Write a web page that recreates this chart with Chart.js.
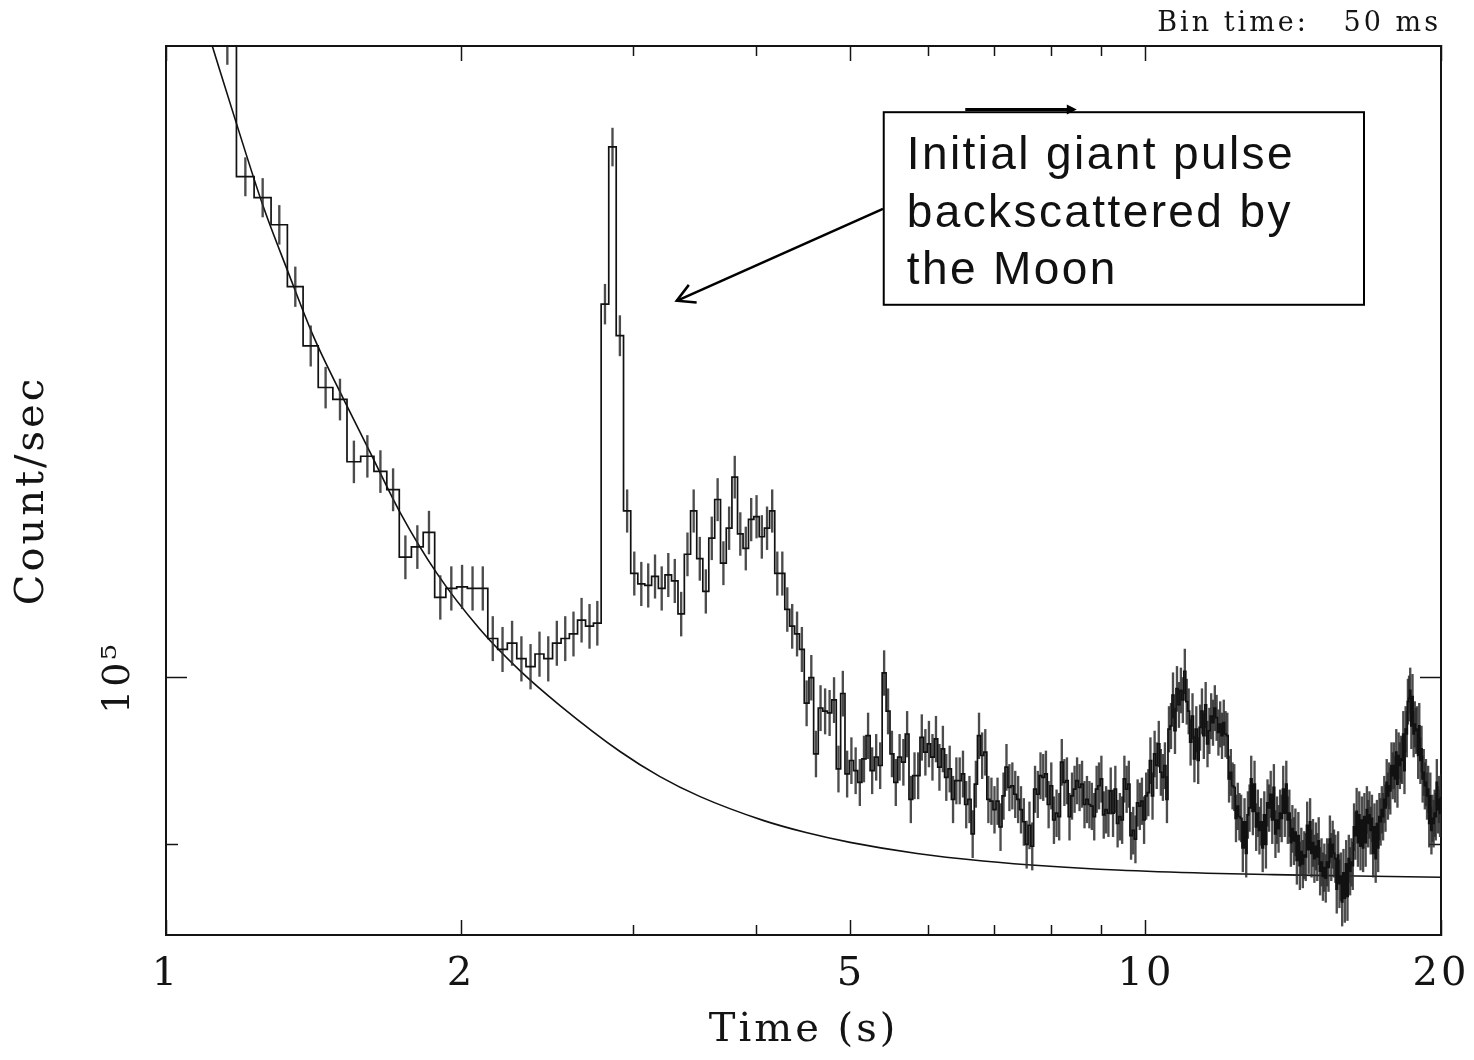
<!DOCTYPE html>
<html>
<head>
<meta charset="utf-8">
<script src="https://cdn.jsdelivr.net/npm/chart.js@4.4.1/dist/chart.umd.min.js"></script>
<style>
  html, body { margin: 0; padding: 0; background: #ffffff; }
  #wrap { width: 1474px; height: 1060px; }
</style>
</head>
<body>
<div id="wrap"><canvas id="c" width="1474" height="1060" style="width:1474px;height:1060px"></canvas></div>
<script>
// ---------------- data (count rate in units of 10^3 counts/s, 50 ms bins) ----------------
const BIN_START = 1.03;   // left edge of first bin (s)
const BIN_TIME = 0.05;    // bin width (s)
const RATE_UNIT = 1000;

// bins 1.03 - 3.03 s
const rateEarly = [158.0, 153.0, 149.0, 137.2, 135.4, 133.1, 128.0, 123.3, 120.1, 119.2,
  114.6, 115.0, 113.9, 112.6, 107.9, 108.6, 109.6, 105.2, 105.8, 105.9,
  105.8, 105.8, 102.5, 101.8, 102.2, 101.2, 100.7, 101.5, 101.2, 102.2,
  102.5, 102.8, 103.7, 103.3, 103.5, 126.6, 139.8, 124.1, 111.1, 106.8];
// bins 3.03 - 5.03 s
const rateMid = [106.1, 106.0, 106.6, 105.8, 106.7, 106.3, 104.1, 108.1, 111.1, 107.8,
  105.6, 109.2, 111.9, 107.5, 109.9, 113.5, 109.5, 108.5, 110.5, 110.7,
  109.3, 109.9, 111.1, 106.8, 106.8, 104.4, 103.3, 102.8, 101.8, 98.4,
  100.0, 95.3, 98.1, 97.9, 97.8, 98.6, 94.4, 99.0, 94.1, 94.9];
// bins 5.03 - 10.03 s
const rateLate = [94.3, 93.6, 95.0, 96.4, 94.3, 95.1, 94.6, 100.3, 97.9, 95.3,
  93.6, 95.1, 94.8, 96.5, 92.6, 94.0, 94.0, 96.3, 95.4, 95.9,
  95.1, 96.2, 94.5, 95.6, 93.9, 94.4, 92.6, 93.7, 93.7, 94.1,
  92.3, 92.6, 90.6, 93.5, 96.4, 95.2, 95.4, 92.6, 92.5, 92.0,
  92.5, 91.0, 92.8, 94.5, 93.3, 93.4, 92.9, 92.6, 92.0, 91.3,
  90.0, 91.1, 89.9, 93.2, 92.9, 94.0, 93.9, 94.1, 92.3, 93.4,
  91.4, 91.8, 91.6, 94.8, 93.6, 93.7, 91.6, 92.8, 93.2, 93.7,
  93.3, 93.5, 92.3, 92.6, 92.3, 92.2, 91.6, 93.2, 93.4, 93.8,
  91.7, 92.0, 91.8, 93.1, 91.8, 93.2, 91.2, 91.6, 91.4, 93.8,
  93.2, 93.5, 90.5, 90.8, 90.3, 92.4, 92.2, 92.5, 91.4, 92.8];
// bins 10.03 - 20.03 s
const rateTail = [93.0, 94.9, 92.8, 95.3, 94.6, 95.9, 94.2, 93.9, 94.6, 92.6,
  96.8, 97.0, 98.9, 96.7, 99.3, 98.3, 99.2, 98.6, 100.4, 98.5,
  97.9, 96.0, 97.6, 95.0, 96.8, 94.9, 96.9, 97.9, 96.4, 98.3,
  95.9, 96.7, 97.6, 97.2, 98.1, 97.5, 96.6, 97.1, 96.4, 97.2,
  96.5, 96.4, 93.8, 94.2, 93.4, 93.3, 91.5, 92.2, 91.6, 91.5,
  89.8, 91.3, 89.5, 91.7, 92.1, 93.8, 91.9, 93.5, 91.0, 91.8,
  90.8, 91.3, 89.8, 91.7, 90.0, 92.4, 92.1, 92.9, 91.4, 93.3,
  90.6, 91.4, 90.9, 91.8, 91.5, 93.2, 91.8, 93.5, 91.4, 91.8,
  90.1, 90.9, 90.2, 90.7, 89.1, 90.5, 88.8, 89.6, 88.9, 89.4,
  89.3, 91.1, 89.7, 91.3, 89.5, 90.1, 89.2, 89.9, 89.3, 90.2,
  88.5, 89.0, 88.2, 88.7, 88.1, 89.0, 88.7, 90.3, 89.3, 90.0,
  89.5, 89.2, 87.5, 89.4, 87.8, 88.2, 86.8, 88.4, 87.0, 88.9,
  87.1, 89.2, 88.5, 89.0, 88.8, 91.0, 90.5, 91.9, 90.1, 91.7,
  89.9, 91.4, 89.8, 91.6, 90.1, 92.0, 91.2, 91.7, 90.8, 91.5,
  89.5, 91.0, 89.2, 91.2, 89.8, 91.6, 91.3, 92.0, 91.6, 92.6,
  92.1, 93.6, 92.8, 93.4, 93.1, 94.6, 94.0, 94.6, 93.8, 95.4,
  93.5, 95.2, 94.6, 95.0, 94.9, 96.5, 94.3, 96.8, 96.5, 98.5,
  98.7, 99.2, 97.0, 98.8, 96.5, 97.1, 96.7, 96.8, 95.2, 97.0,
  94.9, 95.6, 93.8, 94.2, 93.4, 93.6, 92.8, 93.2, 91.2, 92.8,
  90.8, 91.5, 91.2, 91.8, 91.6, 93.6, 92.0, 92.6, 91.8, 92.7];

// fitted decay model
const modelTime = [1.114, 1.176, 1.256, 1.329, 1.413, 1.523, 1.615, 1.733, 1.890, 2.091,
  2.297, 2.524, 2.906, 3.192, 3.508, 4.067, 4.499, 4.989, 5.839, 6.819,
  7.981, 9.342, 11.54, 13.48, 15.77, 20.0];
const modelRate = [149.1, 142.3, 134.7, 129.4, 124.1, 119.0, 115.3, 111.0, 106.8, 103.1,
  100.44, 98.25, 95.44, 93.94, 92.76, 91.38, 90.68, 90.12, 89.49, 89.07,
  88.77, 88.56, 88.38, 88.30, 88.24, 88.16];

// axes
const xMajorTicks = [1, 2, 5, 10, 20];
const xMinorTicks = [3, 4, 6, 7, 8, 9];
const yMajorTicks = [100000];
const yMinorTicks = [90000];
const yTickLabels = { 100000: '10\u2075' };
const xTitle = 'Time (s)';
const yTitle = 'Count/sec';
const binLabel = 'Bin time:   50 ms';
const noteLines = ['Initial giant pulse', 'backscattered by', 'the Moon'];

// annotation anchors in data space (time s, counts/s)
const noteBox = { t0: 5.40, t1: 16.69, rTop: 142900, rBottom: 126540 };
const pointer = { fromT: 5.39, fromR: 134430, toT: 3.32, toR: 126860 };
const topArrow = { fromT: 6.54, toT: 8.50, r: 143150 };

// ---------------- build datasets ----------------
const rateK = [...rateEarly, ...rateMid, ...rateLate, ...rateTail];
const binLeft = rateK.map((_, k) => BIN_START + k * BIN_TIME);
const histPoints = rateK.map((r, k) => ({ x: binLeft[k], y: r * RATE_UNIT }));
histPoints.push({ x: BIN_START + rateK.length * BIN_TIME, y: rateK[rateK.length - 1] * RATE_UNIT });
const errPoints = rateK.map((r, k) => {
  const v = r * RATE_UNIT;
  const e = Math.sqrt(v / BIN_TIME); // Poisson error of the rate
  return { x: binLeft[k] + BIN_TIME / 2, y: [v - e, v + e] };
});
const modelPoints = modelTime.map((t, i) => ({ x: t, y: modelRate[i] * RATE_UNIT }));

// ---------------- chart ----------------
const INK = '#141414';
const SERIF = 'DejaVu Serif';
const SPACING = '3px';
const fixedTicks = (values) => (scale) => { scale.ticks = values.map(v => ({ value: v })); };
const noPad = (s) => { s.paddingLeft = 0; s.paddingRight = 0; s.paddingTop = 0; s.paddingBottom = 0; };

function tickAxis(position, values, len, weight, border, range) {
  return Object.assign({
    type: 'logarithmic', position, weight, offset: false, beginAtZero: false,
    afterBuildTicks: fixedTicks(values),
    afterFit: (s) => { if (s.isHorizontal()) s.height = 0; else s.width = 0; noPad(s); },
    grid: { offset: false, drawOnChartArea: false, drawTicks: true, tickLength: -len, tickWidth: 1.5, tickColor: INK },
    border: border ? { display: true, color: INK, width: 2 } : { display: false },
    ticks: { display: false }
  }, range);
}
const xRange = { min: 1, max: 20 };
const yRange = { min: 85000, max: 149000 };

const spacingPlugin = {
  id: 'spacing',
  beforeLayout(chart) { chart.ctx.letterSpacing = SPACING; },
  beforeDraw(chart) { chart.ctx.letterSpacing = SPACING; }
};

const notePlugin = {
  id: 'note',
  afterDraw(chart) {
    const { ctx } = chart;
    const xs = chart.scales.x, ys = chart.scales.y;
    const px = t => xs.getPixelForValue(t);
    const py = r => ys.getPixelForValue(r);
    ctx.save();
    ctx.strokeStyle = '#000';
    ctx.fillStyle = '#000';
    // pointer arrow with open head
    const x0 = px(pointer.fromT), y0 = py(pointer.fromR), x1 = px(pointer.toT), y1 = py(pointer.toR);
    ctx.lineWidth = 2.5;
    ctx.beginPath(); ctx.moveTo(x0, y0); ctx.lineTo(x1, y1); ctx.stroke();
    const ang = Math.atan2(y1 - y0, x1 - x0), head = 20, spread = 0.5;
    ctx.beginPath();
    ctx.moveTo(x1 - head * Math.cos(ang - spread), y1 - head * Math.sin(ang - spread));
    ctx.lineTo(x1, y1);
    ctx.lineTo(x1 - head * Math.cos(ang + spread), y1 - head * Math.sin(ang + spread));
    ctx.stroke();
    // text box
    const bx0 = px(noteBox.t0), bx1 = px(noteBox.t1), by0 = py(noteBox.rTop), by1 = py(noteBox.rBottom);
    ctx.fillStyle = '#fff';
    ctx.fillRect(bx0, by0, bx1 - bx0, by1 - by0);
    ctx.lineWidth = 2;
    ctx.strokeRect(bx0, by0, bx1 - bx0, by1 - by0);
    ctx.fillStyle = '#111';
    ctx.letterSpacing = '2.4px';
    ctx.font = '46px "Liberation Sans", Arial, sans-serif';
    ctx.textAlign = 'left';
    ctx.textBaseline = 'alphabetic';
    noteLines.forEach((s, i) => ctx.fillText(s, bx0 + 23, by0 + 57 + i * 57.5));
    // small arrow on top edge of the box
    const ax0 = px(topArrow.fromT), ax1 = px(topArrow.toT), ay = py(topArrow.r);
    ctx.strokeStyle = '#000'; ctx.fillStyle = '#000';
    ctx.lineWidth = 3;
    ctx.beginPath(); ctx.moveTo(ax0, ay); ctx.lineTo(ax1 - 8, ay); ctx.stroke();
    ctx.beginPath(); ctx.moveTo(ax1 - 10, ay - 5); ctx.lineTo(ax1, ay); ctx.lineTo(ax1 - 10, ay + 5); ctx.closePath(); ctx.fill();
    ctx.restore();
  }
};

new Chart(document.getElementById('c').getContext('2d'), {
  type: 'line',
  data: {
    datasets: [
      {
        type: 'line', label: 'light curve', data: histPoints, stepped: true,
        borderColor: '#111', borderWidth: 1.7, pointRadius: 0, fill: false, clip: 0, order: 0
      },
      {
        type: 'bar', label: 'errors', data: errPoints, grouped: false, barThickness: 1.7,
        backgroundColor: 'rgba(45,45,45,0.85)', borderWidth: 0, clip: 0, order: 1
      },
      {
        type: 'line', label: 'model', data: modelPoints, cubicInterpolationMode: 'monotone',
        borderColor: '#111', borderWidth: 1.6, pointRadius: 0, fill: false, clip: 0, order: 2
      }
    ]
  },
  options: {
    responsive: false,
    animation: false,
    devicePixelRatio: 1,
    events: [],
    layout: { padding: { left: 0, right: 33, top: 1.6, bottom: 0 } },
    plugins: {
      legend: { display: false },
      tooltip: { enabled: false },
      title: {
        display: true, text: binLabel, align: 'end', color: INK,
        font: { family: SERIF, size: 27, lineHeight: 1.2, weight: 'normal' },
        padding: { top: 6, bottom: 6 }
      }
    },
    scales: {
      x: Object.assign({
        type: 'logarithmic', position: 'bottom', weight: 1, offset: false,
        afterBuildTicks: fixedTicks(xMajorTicks),
        afterFit: (s) => { s.height = 125; noPad(s); },
        grid: { offset: false, drawOnChartArea: false, drawTicks: true, tickLength: -15, tickWidth: 1.5, tickColor: INK },
        border: { display: true, color: INK, width: 2 },
        ticks: { autoSkip: false, maxRotation: 0, minRotation: 0, padding: 31, color: INK,
          font: { family: SERIF, size: 40 }, callback: (v) => String(v) },
        title: { display: true, text: xTitle, color: INK, font: { family: SERIF, size: 40 }, padding: { top: 0, bottom: 5 } }
      }, xRange),
      xMinor: tickAxis('bottom', xMinorTicks, 10, 0, false, xRange),
      xTop: tickAxis('top', xMajorTicks, 15, 1, true, xRange),
      xTopMinor: tickAxis('top', xMinorTicks, 10, 0, false, xRange),
      y: Object.assign({
        type: 'logarithmic', position: 'left', weight: 1, beginAtZero: false,
        afterBuildTicks: fixedTicks(yMajorTicks),
        afterFit: (s) => { s.width = 166; noPad(s); },
        grid: { drawOnChartArea: false, drawTicks: true, tickLength: -21, tickWidth: 1.5, tickColor: INK },
        border: { display: true, color: INK, width: 2 },
        ticks: { autoSkip: false, minRotation: 90, maxRotation: 90, crossAlign: 'center', padding: 32, color: INK,
          font: { family: SERIF, size: 38 }, callback: (v) => yTickLabels[v] || '' },
        title: { display: true, text: yTitle, color: INK, font: { family: SERIF, size: 40 }, padding: { top: 9, bottom: 0 } }
      }, yRange),
      yMinor: tickAxis('left', yMinorTicks, 12, 0, false, yRange),
      yRight: tickAxis('right', yMajorTicks, 21, 0, true, yRange),
      yRightMinor: tickAxis('right', yMinorTicks, 12, 1, false, yRange)
    }
  },
  plugins: [spacingPlugin, notePlugin]
});
</script>
</body>
</html>
